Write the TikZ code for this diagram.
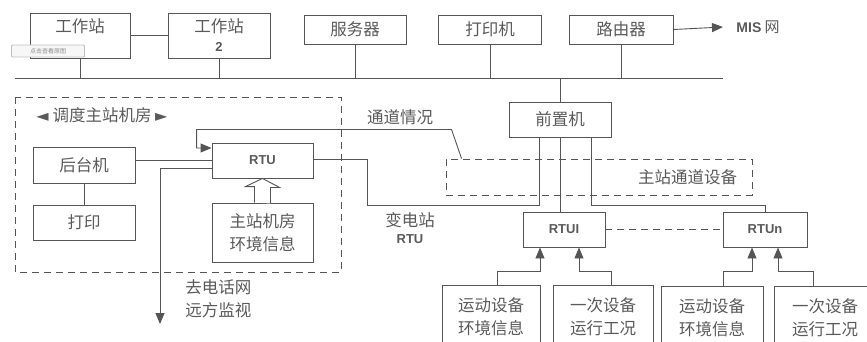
\documentclass[tikz,border=0pt]{standalone}
\usepackage{fontspec}
\setmainfont{Noto Sans CJK SC}
\newfontfamily\latfont{Liberation Sans}
\newfontfamily\symfont{DejaVu Sans}
\usepackage{xcolor}
\usetikzlibrary{arrows.meta}
\definecolor{linec}{HTML}{555555}
\definecolor{textc}{HTML}{5A5A5A}
\newcommand\rtutext[1]{{\latfont\bfseries\fontsize{13}{15}\selectfont #1}}

\begin{document}
\begin{tikzpicture}[
    x=1pt, y=-1pt,
    font=\fontsize{16.5}{23}\selectfont,
    color=linec, line width=0.9pt,
    >={Triangle[length=11pt,width=9pt]},
    box/.style={draw, rectangle, inner sep=2pt, align=center, text=textc},
    dbox/.style={draw, dash pattern=on 7pt off 5pt},
    lab/.style={inner sep=1pt, align=center, text=textc},
  ]
  \useasboundingbox (0,0) rectangle (867,342);

  %% ---- top row and bus ----------------------------------------------
  \node[box, minimum width=100pt, minimum height=45pt] (ws1) at (80,35.5) {工作站\\[-4pt]};
  \node[box, minimum width=102pt, minimum height=45pt] (ws2) at (219,35.5)
    {工作站\\[-4pt]\rtutext{2}};
  \node[box, minimum width=102pt, minimum height=29pt] (srv) at (355,29.5) {服务器};
  \node[box, minimum width=103pt, minimum height=29pt] (prn) at (490,29.5) {打印机};
  \node[box, minimum width=104pt, minimum height=29pt] (rtr) at (621,29.5) {路由器};
  \node[lab, anchor=west, font=\fontsize{15}{17}\selectfont] (mis) at (735,27)
    {{\latfont\bfseries\fontsize{14}{16}\selectfont MIS} 网};
  \node[draw=black!25, fill=black!3, rounded corners=1pt, inner sep=1pt,
    minimum width=73pt, minimum height=12pt, text=black!45,
    font=\fontsize{6}{7}\selectfont] (tag) at (48,51) {点击查看原图};

  \coordinate (busl) at (15,78);
  \coordinate (busr) at (723,78);
  \draw (busl) -- (busr);
  \draw (ws1.east) -- (ws2.west);
  \draw (ws1.south) -- (ws1.south |- busl);
  \draw (ws2.south) -- (ws2.south |- busl);
  \draw (srv.south) -- (srv.south |- busl);
  \draw (prn.south) -- (prn.south |- busl);
  \draw (rtr.south) -- (rtr.south |- busl);
  \draw[->] (rtr.east) -- ([xshift=-12pt]mis.west);

  %% ---- dispatch room ------------------------------------------------
  \draw[dbox] (15,97) rectangle (341,272);
  \node[lab] (roomlab) at (102,115)
    {{\symfont\fontsize{16}{16}\selectfont ◄} 调度主站机房 {\symfont\fontsize{16}{16}\selectfont ►}};
  \node[box, minimum width=102pt, minimum height=36pt] (bak) at (84,165) {后台机};
  \node[box, minimum width=102pt, minimum height=35pt] (prt) at (84,222.5) {打印};
  \node[box, minimum width=101pt, minimum height=35pt] (rtu) at (262.5,160.5) {\rtutext{RTU}};
  \node[box, minimum width=101pt, minimum height=59pt] (env) at (262.5,232.5)
    {主站机房\\环境信息};
  \coordinate (telend) at (160,324);
  \node[lab, anchor=west] (tellab) at (184,299) {去电话网\\远方监视};

  \draw (bak.east |- rtu.west) -- (rtu.west);
  \draw (bak.south) -- (prt.north);
  \draw[->] ([yshift=-7.5pt]rtu.west) -| (telend);
  \draw[fill=white] ([xshift=-8pt]env.north) -- ++(0,-16) -- ++(-9,0)
    -- (rtu.south) -- ++(17,9) -- ++(-9,0) -- ++(0,16);

  %% ---- front end and channel ----------------------------------------
  \node[box, minimum width=102pt, minimum height=35pt] (fep) at (560,119.5) {前置机};
  \node[dbox, minimum width=306pt, minimum height=36pt] (chbox) at (599,177) {};
  \node[lab, anchor=east] (chlab) at ([xshift=-14pt]chbox.east) {主站通道设备};
  \node[lab] (chanlab) at (400,117) {通道情况};
  \node[lab] (sublab) at (410,228) {变电站\\[-6pt]\rtutext{RTU}};

  \draw (fep.north) -- (fep.north |- busl);
  \draw[->] ([xshift=16pt]chbox.north west) -- ++(-10,-29) -- ++(-255,0)
    |- ([yshift=12.5pt]rtu.west);
  \draw ([yshift=1.5pt]rtu.east) -- ++(54,0) -- ++(0,46) -| ([xshift=-21pt]fep.south);

  %% ---- substation RTUs ----------------------------------------------
  \node[box, minimum width=82pt, minimum height=35pt] (rtu1) at (564,229.5) {\rtutext{RTUI}};
  \node[box, minimum width=84pt, minimum height=35pt] (rtun) at (765,229.5) {\rtutext{RTUn}};
  \draw (fep.south) -- (fep.south |- rtu1.north);
  \draw ([xshift=31pt]fep.south) -- ++(0,68) -| (rtun.north);
  \draw[dash pattern=on 7pt off 5pt] (rtu1.east) -- (rtun.west);

  \node[box, minimum width=98pt, minimum height=64pt] (mov1) at (491,317) {运动设备\\环境信息};
  \node[box, minimum width=100pt, minimum height=64pt] (pri1) at (603,317) {一次设备\\运行工况};
  \node[box, minimum width=102pt, minimum height=64pt] (mov2) at (712,318) {运动设备\\环境信息};
  \node[box, minimum width=102pt, minimum height=64pt] (pri2) at (825,318) {一次设备\\运行工况};

  \draw[->] ([xshift=6pt]mov1.north) -- ++(0,-13) -| ([xshift=-24pt]rtu1.south);
  \draw[->] ([xshift=8pt]pri1.north) -- ++(0,-13) -| ([xshift=15pt]rtu1.south);
  \draw[->] ([xshift=11pt]mov2.north) -- ++(0,-14) -| ([xshift=-13pt]rtun.south);
  \draw[->] ([xshift=-12pt]pri2.north) -- ++(0,-14) -| ([xshift=13pt]rtun.south);
\end{tikzpicture}
\end{document}
